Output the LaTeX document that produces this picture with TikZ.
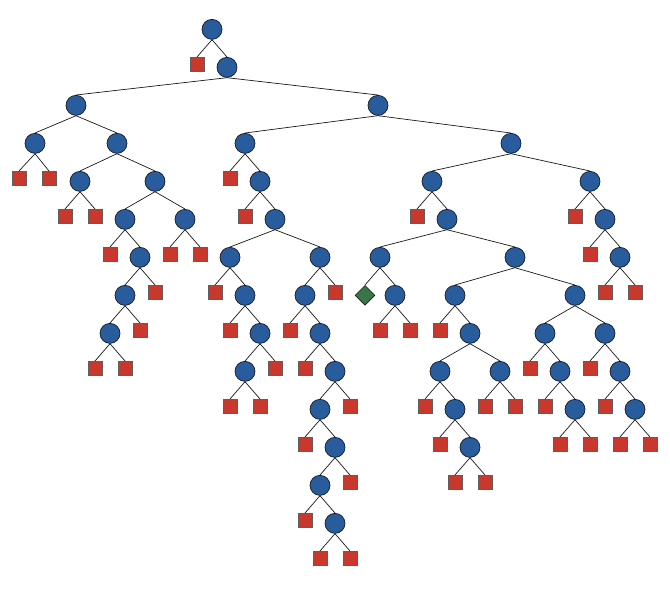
\documentclass[tikz,border=0pt]{standalone}
\usetikzlibrary{shapes.geometric}
\definecolor{cblue}{RGB}{40,92,156}
\definecolor{cred}{RGB}{200,56,44}
\definecolor{cgreen}{RGB}{56,118,72}
\definecolor{cline}{RGB}{25,25,25}
\tikzset{
  cir/.style={circle,draw=cline,fill=cblue,line width=0.7pt,minimum size=20pt,inner sep=0pt},
  sq/.style={rectangle,draw=cline!70,fill=cred,line width=0.8pt,minimum size=14pt,inner sep=0pt},
  dia/.style={diamond,aspect=1,draw=cline,fill=cgreen,line width=0.7pt,minimum width=20pt,minimum height=20pt,inner sep=0pt},
  edge/.style={draw=cline,line width=0.7pt}
}
\newcommand\tnode[5]{\node[#2,anchor=north] (#1) at (#3,{19+38*#4}) {};\draw[edge] (#5.south) -- (#1.north);}
\begin{document}
\begin{tikzpicture}[x=1pt,y=-1pt]
\useasboundingbox (0,0) rectangle (670,590);
\node[cir,anchor=north] (A) at (212,19) {};
% level 1
\tnode{s1a}{sq}{197}{1}{A}
\tnode{B}{cir}{227}{1}{A}
% level 2
\tnode{L}{cir}{76}{2}{B}
\tnode{R}{cir}{378}{2}{B}
% level 3
\tnode{L1}{cir}{35}{3}{L}
\tnode{L2}{cir}{117}{3}{L}
\tnode{R1}{cir}{245}{3}{R}
\tnode{R2}{cir}{511}{3}{R}
% level 4
\tnode{s4a}{sq}{19}{4}{L1}
\tnode{s4b}{sq}{49}{4}{L1}
\tnode{L21}{cir}{80}{4}{L2}
\tnode{L22}{cir}{155}{4}{L2}
\tnode{s4c}{sq}{230}{4}{R1}
\tnode{R11}{cir}{260}{4}{R1}
\tnode{R21}{cir}{432}{4}{R2}
\tnode{R22}{cir}{590}{4}{R2}
% level 5
\tnode{s5a}{sq}{65}{5}{L21}
\tnode{s5b}{sq}{95}{5}{L21}
\tnode{L221}{cir}{125}{5}{L22}
\tnode{L222}{cir}{185}{5}{L22}
\tnode{s5c}{sq}{245}{5}{R11}
\tnode{R111}{cir}{275}{5}{R11}
\tnode{s5d}{sq}{417}{5}{R21}
\tnode{R211}{cir}{447}{5}{R21}
\tnode{s5e}{sq}{575}{5}{R22}
\tnode{R221}{cir}{605}{5}{R22}
% level 6
\tnode{s6a}{sq}{110}{6}{L221}
\tnode{a6}{cir}{140}{6}{L221}
\tnode{s6b}{sq}{170}{6}{L222}
\tnode{s6c}{sq}{200}{6}{L222}
\tnode{b6}{cir}{230}{6}{R111}
\tnode{c6}{cir}{320}{6}{R111}
\tnode{d6}{cir}{380}{6}{R211}
\tnode{e6}{cir}{515}{6}{R211}
\tnode{s6d}{sq}{590}{6}{R221}
\tnode{f6}{cir}{620}{6}{R221}
% level 7
\tnode{a7}{cir}{125}{7}{a6}
\tnode{s7a}{sq}{155}{7}{a6}
\tnode{s7b}{sq}{215}{7}{b6}
\tnode{b7}{cir}{245}{7}{b6}
\tnode{c7}{cir}{305}{7}{c6}
\tnode{s7c}{sq}{335}{7}{c6}
\tnode{g7}{dia}{365}{7}{d6}
\tnode{d7}{cir}{395}{7}{d6}
\tnode{e7a}{cir}{455}{7}{e6}
\tnode{e7b}{cir}{575}{7}{e6}
\tnode{s7d}{sq}{605}{7}{f6}
\tnode{s7e}{sq}{635}{7}{f6}
% level 8
\tnode{a8}{cir}{110}{8}{a7}
\tnode{s8a}{sq}{140}{8}{a7}
\tnode{s8b}{sq}{230}{8}{b7}
\tnode{b8}{cir}{260}{8}{b7}
\tnode{s8c}{sq}{290}{8}{c7}
\tnode{c8}{cir}{320}{8}{c7}
\tnode{s8d}{sq}{380}{8}{d7}
\tnode{s8e}{sq}{410}{8}{d7}
\tnode{s8f}{sq}{440}{8}{e7a}
\tnode{e8}{cir}{470}{8}{e7a}
\tnode{f8a}{cir}{545}{8}{e7b}
\tnode{f8b}{cir}{605}{8}{e7b}
% level 9
\tnode{s9a}{sq}{95}{9}{a8}
\tnode{s9b}{sq}{125}{9}{a8}
\tnode{b9}{cir}{245}{9}{b8}
\tnode{s9c}{sq}{275}{9}{b8}
\tnode{s9d}{sq}{305}{9}{c8}
\tnode{c9}{cir}{335}{9}{c8}
\tnode{e9a}{cir}{440}{9}{e8}
\tnode{e9b}{cir}{500}{9}{e8}
\tnode{s9e}{sq}{530}{9}{f8a}
\tnode{f9a}{cir}{560}{9}{f8a}
\tnode{s9f}{sq}{590}{9}{f8b}
\tnode{f9b}{cir}{620}{9}{f8b}
% level 10
\tnode{s10a}{sq}{230}{10}{b9}
\tnode{s10b}{sq}{260}{10}{b9}
\tnode{c10}{cir}{320}{10}{c9}
\tnode{s10c}{sq}{350}{10}{c9}
\tnode{s10d}{sq}{425}{10}{e9a}
\tnode{e10}{cir}{455}{10}{e9a}
\tnode{s10e}{sq}{485}{10}{e9b}
\tnode{s10f}{sq}{515}{10}{e9b}
\tnode{s10g}{sq}{545}{10}{f9a}
\tnode{f10a}{cir}{575}{10}{f9a}
\tnode{s10h}{sq}{605}{10}{f9b}
\tnode{f10b}{cir}{635}{10}{f9b}
% level 11
\tnode{s11a}{sq}{305}{11}{c10}
\tnode{c11}{cir}{335}{11}{c10}
\tnode{s11b}{sq}{440}{11}{e10}
\tnode{e11}{cir}{470}{11}{e10}
\tnode{s11c}{sq}{560}{11}{f10a}
\tnode{s11d}{sq}{590}{11}{f10a}
\tnode{s11e}{sq}{620}{11}{f10b}
\tnode{s11f}{sq}{650}{11}{f10b}
% level 12
\tnode{c12}{cir}{320}{12}{c11}
\tnode{s12a}{sq}{350}{12}{c11}
\tnode{s12b}{sq}{455}{12}{e11}
\tnode{s12c}{sq}{485}{12}{e11}
% level 13
\tnode{s13a}{sq}{305}{13}{c12}
\tnode{c13}{cir}{335}{13}{c12}
% level 14
\tnode{s14a}{sq}{320}{14}{c13}
\tnode{s14b}{sq}{350}{14}{c13}
\end{tikzpicture}
\end{document}
